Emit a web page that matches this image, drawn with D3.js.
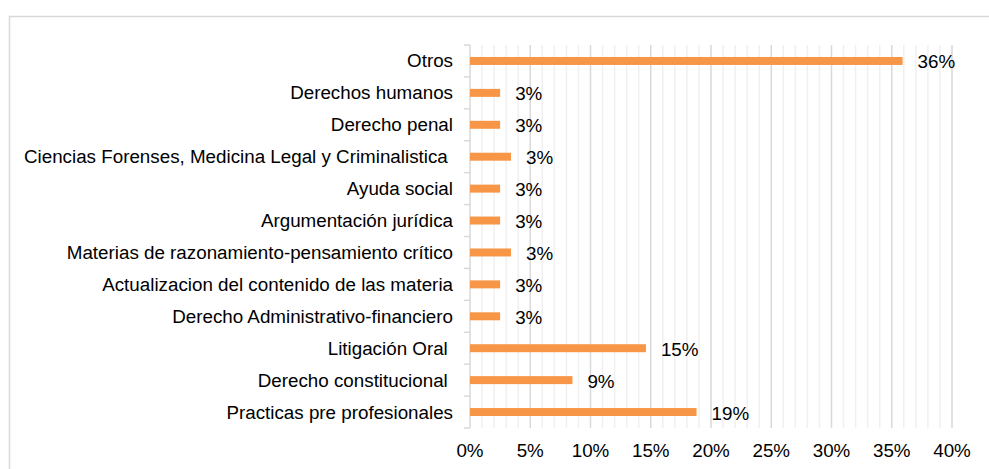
<!DOCTYPE html>
<html><head><meta charset="utf-8">
<script src="https://cdn.jsdelivr.net/npm/d3@7"></script>
<style>html,body{margin:0;padding:0;background:#fff;overflow:hidden}text{font-family:"Liberation Sans",Arial,sans-serif;fill:#000;white-space:pre}</style>
</head><body><svg id="c" width="989" height="469"></svg>
<script>
const categories = ["Otros","Derechos humanos","Derecho penal","Ciencias Forenses, Medicina Legal y Criminalistica ","Ayuda social","Argumentación jurídica","Materias de razonamiento-pensamiento crítico","Actualizacion del contenido de las materia","Derecho Administrativo-financiero","Litigación Oral ","Derecho constitucional ","Practicas pre profesionales"];
const values = [35.9, 2.5, 2.5, 3.4, 2.5, 2.5, 3.4, 2.5, 2.5, 14.6, 8.5, 18.8];
const xTicks = [0,5,10,15,20,25,30,35,40];

const FS = "18.8px";
const svg = d3.select("#c");
svg.append("rect").attr("x",9.5).attr("y",16.5).attr("width",1100).attr("height",600)
  .attr("fill","none").attr("stroke","#d9d9d9").attr("stroke-width",1.5);

const L=470, R=952, T=45, B=428;
const x = d3.scaleLinear().domain([0,40]).range([L,R]);
const y = d3.scaleBand().domain(categories).range([T,B]).paddingInner(0.75).paddingOuter(0.375);
const band = d3.scaleBand().domain(categories).range([T,B]);

// minor gridlines
svg.append("g").selectAll("line").data(d3.range(1,41).filter(v=>v%5!==0)).join("line")
  .attr("x1",d=>x(d)).attr("x2",d=>x(d)).attr("y1",T).attr("y2",B)
  .attr("stroke","#f0f0f0").attr("stroke-width",1.5);
// major gridlines
svg.append("g").selectAll("line").data(xTicks.filter(v=>v>0)).join("line")
  .attr("x1",d=>x(d)).attr("x2",d=>x(d)).attr("y1",T).attr("y2",B)
  .attr("stroke","#d9d9d9").attr("stroke-width",1.5);

// x tick labels
svg.append("g").selectAll("text").data(xTicks).join("text")
  .attr("x",d=>x(d)).attr("y",457).attr("text-anchor","middle").attr("font-size",FS)
  .text(d=>d+"%");

// left axis
svg.append("line").attr("x1",L).attr("x2",L).attr("y1",T).attr("y2",B).attr("stroke","#d9d9d9").attr("stroke-width",1.5);
const bounds = categories.map(c=>band(c)).concat([B]);
svg.append("g").selectAll("line").data(bounds).join("line")
  .attr("x1",L-6).attr("x2",L).attr("y1",d=>d).attr("y2",d=>d)
  .attr("stroke","#d9d9d9").attr("stroke-width",1.5);

// bars
svg.append("g").selectAll("rect").data(categories).join("rect")
  .attr("x",x(0)).attr("y",(c)=>y(c)).attr("height",y.bandwidth())
  .attr("width",(c,i)=>x(values[i])-x(0)).attr("fill","#F79646");

// category labels
svg.append("g").selectAll("text").data(categories).join("text")
  .attr("x",L-17).attr("y",c=>band(c)+band.bandwidth()/2+6.5).attr("text-anchor","end")
  .attr("font-size",FS).text(c=>c);

// value labels
svg.append("g").selectAll("text").data(categories).join("text")
  .attr("x",(c,i)=>x(values[i])+15).attr("y",c=>band(c)+band.bandwidth()/2+7.5)
  .attr("font-size",FS).text((c,i)=>Math.round(values[i])+"%");
</script></body></html>
